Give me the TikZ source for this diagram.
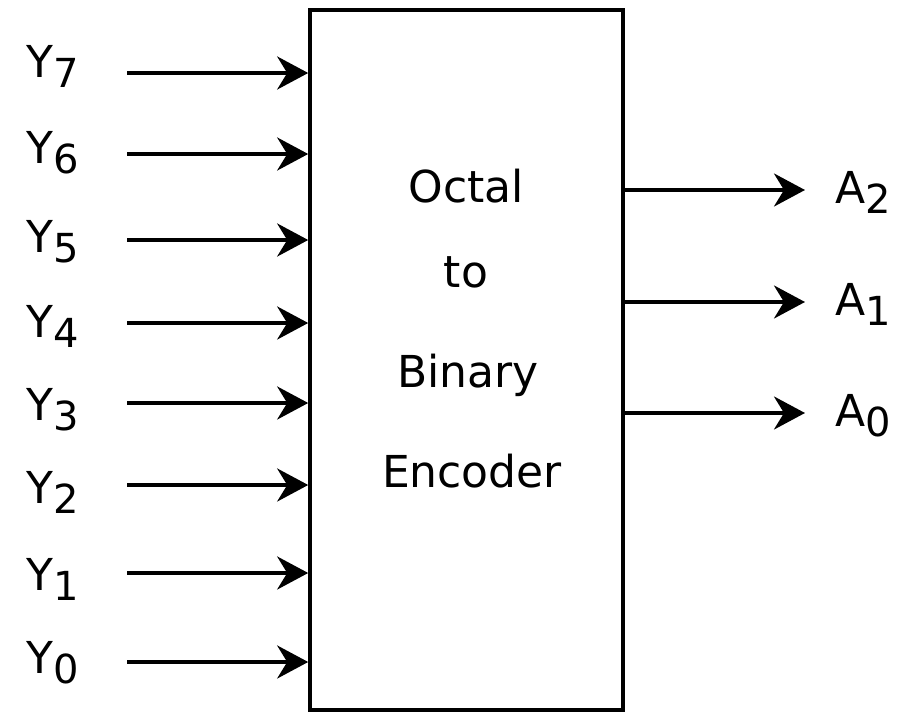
\documentclass[tikz,border=0pt]{standalone}
\usepackage{fontspec}
\setmainfont{DejaVu Sans}
\usetikzlibrary{arrows.meta}
% lowered, slightly smaller index digit
\newcommand\lowidx[1]{\raisebox{-10pt}{\fontsize{40}{40}\selectfont #1}}
\begin{document}
\begin{tikzpicture}[x=1pt,y=-1pt,
  wire/.style={line width=3.6pt,-{Stealth[length=31pt,width=33pt,inset=10pt]}},
  lbl/.style={anchor=base west,inner sep=0pt,font=\fontsize{44}{44}\selectfont},
  word/.style={anchor=base,inner sep=0pt,font=\fontsize{44}{44}\selectfont},
  block/.style={draw,line width=3.6pt,inner sep=0pt,minimum width=313pt,minimum height=700pt}]
\useasboundingbox (0,0) rectangle (900,718);
% encoder block
\node[block] (enc) at (466.5,360) {};
\node[word] (w1) at (466,202) {Octal};
\node[word] (w2) at (466,287) {to};
\node[word] (w3) at (468,387) {Binary};
\node[word] (w4) at (472,487) {Encoder};
% inputs
\foreach \n/\ya/\yb in {7/73/77, 6/154/163, 5/240/252, 4/323/337, 3/403/420, 2/485/503, 1/573/590, 0/662/673}{
  \node[lbl] (y\n) at (26,\yb) {Y\lowidx{\n}};
  \coordinate (s\n) at (127,\ya);
  \draw[wire] (s\n) -- (s\n -| enc.west);
}
% outputs
\foreach \n/\ya in {2/190, 1/302, 0/413}{
  \coordinate (t\n) at (805,\ya);
  \draw[wire] (t\n -| enc.east) -- (t\n);
  \node[lbl] (a\n) at (835,\ya+13) {A\lowidx{\n}};
}
\end{tikzpicture}
\end{document}
